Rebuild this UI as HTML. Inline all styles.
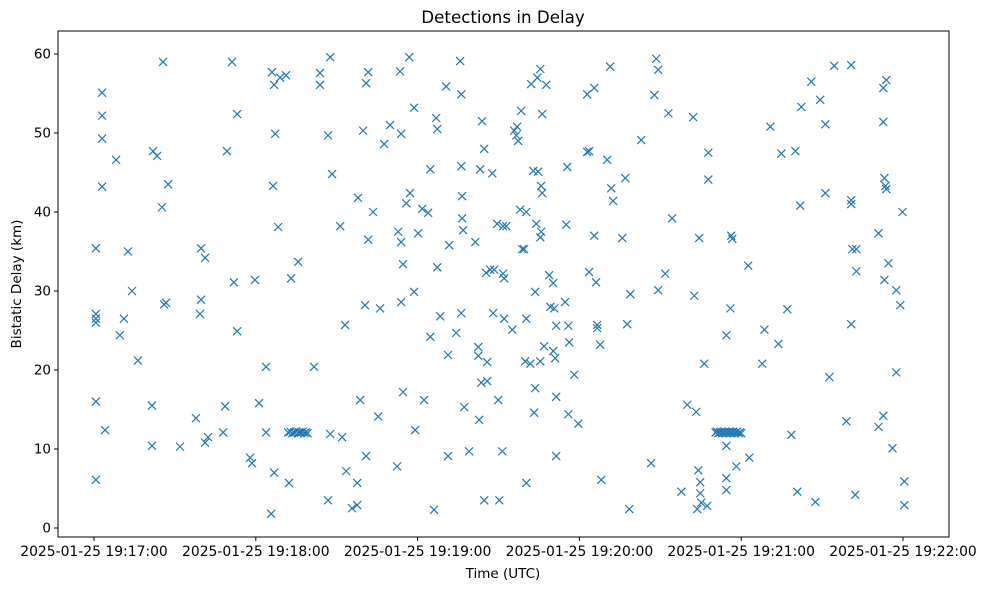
<!DOCTYPE html>
<html><head><meta charset="utf-8">
<style>
body{margin:0;background:#fff;}
svg text{font-family:"DejaVu Sans","Liberation Sans",sans-serif;fill:#000;}
</style></head>
<body>
<svg id="chart" width="984" height="590" xmlns="http://www.w3.org/2000/svg">
<rect width="984" height="590" fill="#fff"/>
<text x="503" y="23" font-size="16.7" text-anchor="middle">Detections in Delay</text>
<rect x="58" y="31" width="891" height="506" fill="none" stroke="#000" stroke-width="1"/>
<g id="yticks"></g>
<g id="xticks"></g>
<g id="marks"></g>
<text x="503" y="578" font-size="13.5" text-anchor="middle">Time (UTC)</text>
<text x="21" y="284" font-size="13.5" text-anchor="middle" transform="rotate(-90 21 284)">Bistatic Delay (km)</text>
</svg>
<script>
// seconds since 2025-01-25 19:17:00
const timesSec = [0.7,0.7,0.7,0.7,0.7,0.7,3.0,3.0,3.0,3.0,4.1,8.2,9.6,11.1,12.6,14.1,16.3,21.5,21.5,21.9,23.4,25.2,25.6,26.0,26.7,27.5,31.9,37.8,39.3,39.7,39.7,41.2,41.2,42.3,47.9,48.6,49.3,51.2,51.9,53.1,53.1,57.9,58.6,59.7,61.2,63.8,63.8,65.7,66.0,66.4,66.8,67.2,66.8,68.3,69.0,71.2,72.3,73.1,75.7,
72,72.8,73.5,74.2,75,75.6,76.2,76.8,77.4,78,78.6,79.2,
81.6,83.8,83.8,86.8,87.6,86.8,87.6,88.3,91.3,92.0,93.1,93.5,95.7,97.6,97.6,97.9,98.7,99.8,100.5,100.9,101.7,100.9,101.7,103.5,105.4,106.1,107.6,109.8,112.4,112.8,113.5,113.9,113.9,113.9,114.6,114.6,115.8,117.2,116.9,118.7,118.7,119.1,120.2,121.7,122.4,123.9,124.7,124.7,126.1,126.9,127.3,127.3,128.4,130.6,131.3,131.3,131.7,134.3,135.8,136.2,136.2,136.2,136.5,136.5,136.9,137.3,139.1,141.4,142.5,142.5,142.8,143.2,143.6,143.9,144.7,144.7,145.4,145.8,145.8,146.9,147.7,148.0,148.4,149.5,149.9,150.3,151.4,151.7,151.7,152.1,152.1,152.9,155.1,155.8,156.6,156.9,157.3,158.0,158.4,158.8,159.5,159.9,160.3,160.3,160.3,161.8,162.1,162.9,163.2,163.6,163.6,164.0,164.4,164.7,165.5,165.5,165.5,165.8,165.8,166.2,166.2,166.9,167.7,168.8,169.2,170.3,170.3,170.7,171.0,171.4,171.4,171.4,174.7,175.1,175.5,175.9,175.9,176.2,178.1,179.6,182.9,182.9,183.6,183.6,185.5,185.5,186.2,186.6,186.6,187.7,188.1,190.3,191.4,191.8,192.5,195.9,197.0,197.7,198.5,198.9,202.9,206.6,207.8,208.5,209.2,209.2,211.8,213.0,214.4,217.8,220.0,222.2,222.6,223.3,223.7,224.1,224.4,224.8,224.8,225.2,226.3,227.4,227.8,227.8,
230.5,231,231.5,232,232.5,233,233.5,234,234.5,235,235.5,236,236.5,237,237.5,238,238.5,239,239.5,240,
234.5,234.5,234.5,234.5,236.0,236.3,236.7,238.2,242.6,243.0,247.8,248.6,250.8,253.8,254.9,257.1,258.6,260.1,260.8,261.9,262.3,266.0,267.5,269.3,271.2,271.2,272.7,274.5,279.0,280.8,280.8,280.8,280.8,281.2,282.7,282.3,282.7,290.9,290.9,292.7,292.7,292.7,293.1,293.1,293.5,293.8,293.8,294.6,296.1,297.5,297.5,299.0,299.8,300.5,300.5];
const delaysKm = [27.1,6.1,16.0,35.4,26.0,26.5,55.1,52.2,49.3,43.2,12.4,46.6,24.4,26.5,35.0,30.0,21.2,15.5,10.4,47.7,47.1,40.6,59.0,28.3,28.5,43.5,10.3,13.9,27.1,28.9,35.4,34.2,10.8,11.5,12.1,15.4,47.7,59.0,31.1,24.9,52.4,8.9,8.2,31.4,15.8,12.1,20.4,1.8,57.7,43.3,56.1,49.9,7.0,38.1,57.0,57.3,5.7,31.6,33.7,
12.1,12.2,12.0,12.1,12.2,12.0,12.1,12.1,12.2,12.0,12.1,12.0,
20.4,57.6,56.1,49.7,59.6,3.5,11.9,44.8,38.2,11.5,25.7,7.2,2.5,2.9,5.7,41.8,16.2,50.3,28.2,56.3,57.7,9.1,36.5,40.0,14.1,27.8,48.6,51.0,7.8,37.5,57.8,49.9,36.2,28.6,33.4,17.2,41.1,42.4,59.6,53.2,29.9,12.4,37.3,40.4,16.2,39.9,24.2,45.4,2.3,51.9,50.5,33.0,26.8,55.9,9.1,21.9,35.8,24.7,59.1,54.9,27.2,45.8,42.0,39.2,37.7,15.3,9.7,36.2,22.9,21.8,13.7,45.4,18.4,51.5,3.5,48.0,32.3,21.0,18.6,32.7,44.9,27.2,32.7,38.5,16.2,3.5,9.7,38.2,32.2,31.6,26.5,38.2,25.1,50.3,49.7,50.8,49.0,40.3,52.8,35.3,35.3,21.1,40.0,26.5,5.7,20.8,56.2,45.2,14.6,17.7,29.9,38.5,57.0,45.1,58.1,36.8,21.1,43.3,37.5,52.4,42.4,23.0,56.1,32.0,28.0,22.4,31.0,27.8,21.5,9.1,16.6,25.6,28.6,38.4,45.7,25.6,14.4,23.5,19.4,13.2,47.6,54.9,32.4,47.7,55.7,37.0,31.1,25.3,25.7,23.2,6.1,46.6,58.4,43.0,41.4,36.7,44.3,25.8,2.4,29.6,49.1,8.2,54.8,59.4,58.0,30.1,32.2,52.5,39.2,4.6,15.6,52.0,29.4,14.7,2.4,7.3,36.7,5.8,4.4,3.2,20.8,2.8,47.5,44.1,
12.1,12.2,12.0,12.1,12.2,12.0,12.1,12.2,12.0,12.1,12.2,12.0,12.1,12.2,12.0,12.1,12.2,12.0,12.1,12.0,
24.4,10.4,6.3,4.8,27.8,37.0,36.6,7.8,33.2,8.9,20.8,25.1,50.8,23.3,47.4,27.7,11.8,47.7,4.6,40.8,53.3,56.5,3.3,54.2,51.1,42.4,19.1,58.5,13.5,58.6,41.5,41.0,25.8,35.3,35.3,4.2,32.5,37.3,12.8,14.2,51.4,55.7,31.4,44.3,43.3,56.7,42.9,33.5,10.1,19.7,30.1,28.2,40.0,5.9,2.9,12.8];
const yTickValues = [0,10,20,30,40,50,60];
const xTickSec = [0,60,120,180,240,300];
const xTickLabels = ["2025-01-25 19:17:00","2025-01-25 19:18:00","2025-01-25 19:19:00","2025-01-25 19:20:00","2025-01-25 19:21:00","2025-01-25 19:22:00"];

const NS="http://www.w3.org/2000/svg";
function xScale(s){return 94 + s*(809/300);}
function yScale(k){return 528 - k*7.9;}
function mk(tag,attrs,parent){const e=document.createElementNS(NS,tag);for(const k in attrs)e.setAttribute(k,attrs[k]);parent.appendChild(e);return e;}

const yg=document.getElementById('yticks');
yTickValues.forEach(v=>{
  const y=yScale(v);
  const t=mk('line',{x1:54,x2:58,y1:y,y2:y,stroke:'#000'},yg);
  
  
  const l=mk('text',{x:51,y:y+4.5,'font-size':13.5,'text-anchor':'end'},yg);
  
  
  l.textContent=v;
});
const xg=document.getElementById('xticks');
xTickSec.forEach((s,i)=>{
  const x=xScale(s);
  const t=mk('line',{x1:x,x2:x,y1:537,y2:541,stroke:'#000'},xg);
  
  
  const l=mk('text',{x:x,y:556,'font-size':13.9,'text-anchor':'middle'},xg);
  
  
  l.textContent=xTickLabels[i];
});
const mg=document.getElementById('marks');
const n=Math.min(timesSec.length,delaysKm.length);
for(let i=0;i<n;i++){
  const cx=xScale(timesSec[i]), cy=yScale(delaysKm[i]), r=4;
  const p=mk('path',{d:`M${cx-r},${cy-r}L${cx+r},${cy+r}M${cx-r},${cy+r}L${cx+r},${cy-r}`,stroke:'#1f77b4','stroke-width':1.2,fill:'none'},mg);
  
  
}
</script>
</body></html>
